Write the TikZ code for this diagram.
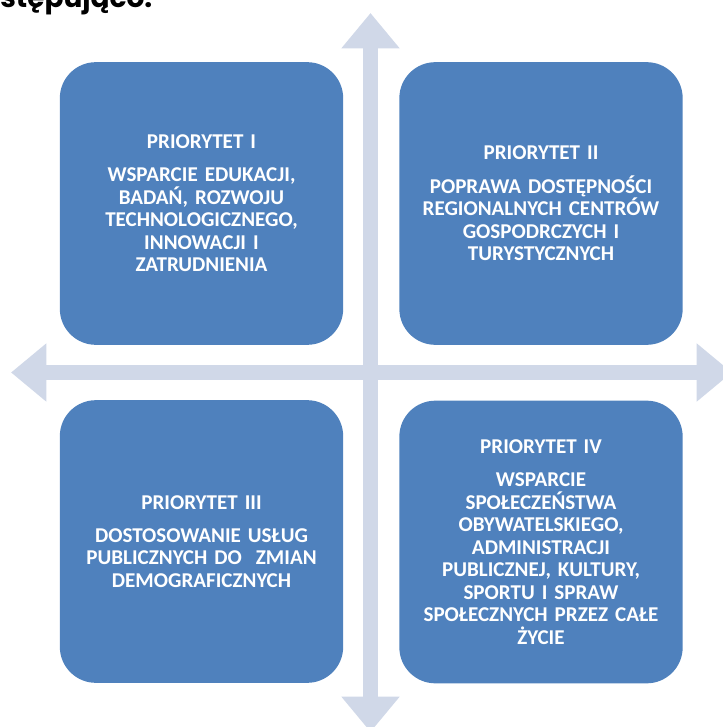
\documentclass[tikz,border=0pt]{standalone}
\usepackage{fontspec}
\setmainfont{Carlito}
\newfontfamily\headfont{Poppins}
\usetikzlibrary{arrows.meta}

\definecolor{prioblue}{HTML}{4F81BD}
\definecolor{axisgray}{HTML}{D0D8E8}

\tikzset{
	priobox/.style={fill=prioblue, rounded corners=27pt, minimum width=212.5pt, minimum height=212pt,
		text width=205pt, align=center, text=white, inner sep=0pt,
		font=\fontsize{15.8}{16.9}\selectfont\bfseries},
	axisarrow/.style={draw=axisgray, line width=11.25pt,
		{Triangle[width=42pt,length=26.5pt]}-{Triangle[width=42pt,length=26.5pt]}}
}

\begin{document}
\begin{tikzpicture}[x=0.75pt,y=-0.75pt]
	\useasboundingbox (0,0) rectangle (723,727);
	\clip (0,0) rectangle (723,727);

	% Heading line (cut at the top)
	\node[anchor=base west, inner sep=0pt, font=\headfont\bfseries\fontsize{21}{21}\selectfont] (head) at (0,7.5) {stępująco.};

	% Axes
	\coordinate (top) at (370.5,13);
	\coordinate (bottom) at (370.5,732);
	\coordinate (left) at (11,372.5);
	\coordinate (right) at (732,372.5);
	\draw[axisarrow] (left) -- (right);
	\draw[axisarrow] (top) -- (bottom);

	% Priorities
	\node[priobox] (p1) at (201.5,203.5) {PRIORYTET I\\[8pt]
		WSPARCIE EDUKACJI,\\ BADAŃ, ROZWOJU\\ TECHNOLOGICZNEGO,\\ INNOWACJI I\\ ZATRUDNIENIA};
	\node[priobox] (p2) at (541,203.5) {PRIORYTET II\\[8pt]
		POPRAWA DOSTĘPNOŚCI\\ REGIONALNYCH CENTRÓW\\ GOSPODRCZYCH I\\ TURYSTYCZNYCH};
	\node[priobox] (p3) at (201.5,541.5) {PRIORYTET III\\[8pt]
		DOSTOSOWANIE USŁUG\\ PUBLICZNYCH DO~ ZMIAN\\ DEMOGRAFICZNYCH};
	\node[priobox] (p4) at (541,542) {PRIORYTET IV\\[8pt]
		WSPARCIE\\ SPOŁECZEŃSTWA\\ OBYWATELSKIEGO,\\ ADMINISTRACJI\\ PUBLICZNEJ, KULTURY,\\ SPORTU I SPRAW\\ SPOŁECZNYCH PRZEZ CAŁE\\ ŻYCIE};
\end{tikzpicture}
\end{document}
